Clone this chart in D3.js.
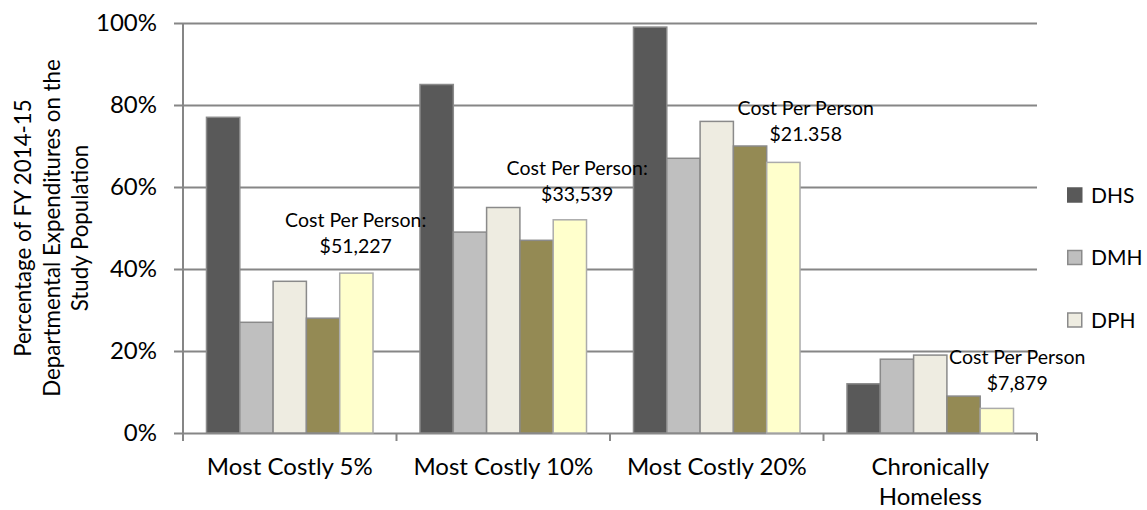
<!DOCTYPE html>
<html>
<head>
<meta charset="utf-8">
<script src="https://cdn.jsdelivr.net/npm/d3@7"></script>
<style>
body{margin:0;background:#fff;}
svg text{font-family:Lato,'Open Sans',sans-serif;fill:#000;}
</style>
</head>
<body>
<svg id="chart" width="1147" height="510"></svg>
<script>
// data
const categories=['Most Costly 5%','Most Costly 10%','Most Costly 20%','Chronically\nHomeless'];
const series=['DHS','DMH','DPH','Series 4','Series 5'];
const dhs=[77,85,99,12];
const dmh=[27,49,67,18];
const dph=[37,55,76,19];
const series4=[28,47,70,9];
const series5=[39,52,66,6];
const legend_items=['DHS','DMH','DPH'];
const cost_notes=[
    ['Cost Per Person:','$51,227'],
    ['Cost Per Person:','$33,539'],
    ['Cost Per Person','$21.358'],
    ['Cost Per Person','$7,879']
];
const y_ticks=[0,20,40,60,80,100];
const y_title=['Percentage of FY 2014-15','Departmental Expenditures on the','Study Population'];

const values={'DHS':dhs,'DMH':dmh,'DPH':dph,'Series 4':series4,'Series 5':series5};

const colors={
    'DHS':'#595959',
    'DMH':'#bfbfbf',
    'DPH':'#eeece1',
    'Series 4':'#948a54',
    'Series 5':'#ffffcc'
}
const strokes={
    'DHS':'#8a8a8a',
    'DMH':'#8a8a8a',
    'DPH':'#8a8a8a',
    'Series 4':'#8a8a8a',
    'Series 5':'#ababab'
}

const plot={left:183,right:1037,top:23,bottom:433,grid_left:174};

// where the cost boxes sit: shift from the group centre (px) and level in %
const note_layout=[{dx:66,v:50.2},{dx:74,v:62.9},{dx:89,v:77.6},{dx:87,v:16.8}];

const svg=d3.select('#chart');

const x0=d3.scaleBand()
    .domain(categories)
    .range([plot.left,plot.right])
    .paddingInner(0.22)
    .paddingOuter(0.11);
const x1=d3.scaleBand()
    .domain(series)
    .range([0,x0.bandwidth()]);
const y=d3.scaleLinear()
    .domain([0,100])
    .range([plot.bottom,plot.top]);

// gridlines + y labels
const y_axis=svg.append('g')
    .attr('transform',`translate(${plot.grid_left},0)`)
    .call(d3.axisLeft(y)
        .tickValues(y_ticks)
        .tickSize(-(plot.right-plot.grid_left))
        .tickPadding(17)
        .tickFormat(d=>d+'%'));
y_axis.select('.domain').remove();
y_axis.selectAll('.tick line').attr('stroke','#868686').attr('stroke-width',2);
y_axis.selectAll('.tick text').attr('font-size',24).attr('font-family',null);

// vertical axis line
svg.append('line')
    .attr('x1',plot.left).attr('x2',plot.left)
    .attr('y1',plot.top).attr('y2',plot.bottom+8)
    .attr('stroke','#868686').attr('stroke-width',2);

// category boundary ticks
const step=x0.step();
const bounds=categories.map(c=>x0(c)-step*x0.paddingInner()/2).concat([plot.right]);
svg.append('g').selectAll('line')
    .data(bounds.slice(1))
    .join('line')
    .attr('x1',d=>d).attr('x2',d=>d)
    .attr('y1',plot.bottom).attr('y2',plot.bottom+8)
    .attr('stroke','#868686').attr('stroke-width',2);

// x labels
const x_axis=svg.append('g')
    .attr('transform',`translate(0,${plot.bottom})`)
    .call(d3.axisBottom(x0).tickSize(0).tickPadding(25));
x_axis.select('.domain').remove();
x_axis.selectAll('.tick text')
    .attr('font-size',24).attr('font-family',null)
    .each(function(d){
        const t=d3.select(this);
        t.text(null);
        d.split('\n').forEach((line,i)=>{
            t.append('tspan').attr('x',0).attr('dy',i==0?'0.71em':'1.25em').text(line);
        });
    });

// bars
const groups=svg.append('g').selectAll('g')
    .data(categories)
    .join('g')
    .attr('transform',d=>`translate(${x0(d)},0)`);
groups.selectAll('rect')
    .data((c,ci)=>series.map(s=>({s,v:values[s][ci]})))
    .join('rect')
    .attr('x',d=>x1(d.s))
    .attr('y',d=>y(d.v))
    .attr('width',x1.bandwidth())
    .attr('height',d=>y(0)-y(d.v))
    .attr('fill',d=>colors[d.s])
    .attr('stroke',d=>strokes[d.s])
    .attr('stroke-width',1.5);

// cost per person notes
svg.append('g').selectAll('text')
    .data(cost_notes)
    .join('text')
    .attr('text-anchor','middle')
    .attr('font-size',19.5)
    .attr('transform',(d,i)=>`translate(${x0(categories[i])+x0.bandwidth()/2+note_layout[i].dx},${y(note_layout[i].v)})`)
    .each(function(d){
        const t=d3.select(this);
        d.forEach((line,i)=>{
            t.append('tspan').attr('x',0).attr('dy',i==0?0:26).text(line);
        });
    });

// legend
const legend=svg.append('g')
    .attr('transform','translate(1067,195)');
const li=legend.selectAll('g')
    .data(legend_items)
    .join('g')
    .attr('transform',(d,i)=>`translate(0,${i*62.5})`);
li.append('rect')
    .attr('x',0.75).attr('y',-7)
    .attr('width',14).attr('height',14)
    .attr('fill',d=>colors[d])
    .attr('stroke',d=>d=='DHS'?colors[d]:'#8a8a8a')
    .attr('stroke-width',1.5);
li.append('text')
    .attr('x',24)
    .attr('dy','0.36em')
    .attr('font-size',21)
    .text(d=>d);

// y title
const yt=svg.append('text')
    .attr('transform',`translate(31,${(plot.top+plot.bottom)/2}) rotate(-90)`)
    .attr('text-anchor','middle')
    .attr('font-size',22.3);
y_title.forEach((line,i)=>{
    yt.append('tspan').attr('x',0).attr('dy',i==0?0:28.5).text(line);
});
</script>
</body>
</html>
